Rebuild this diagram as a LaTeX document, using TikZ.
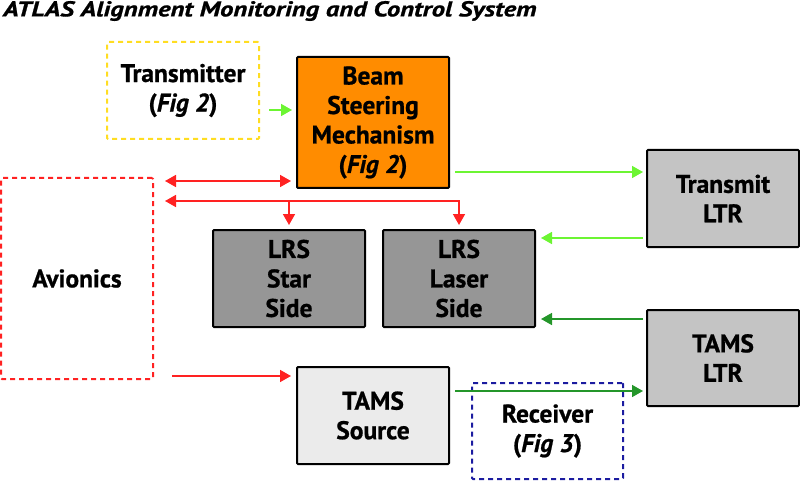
\documentclass[tikz,border=0pt]{standalone}
\usepackage{fontspec}
\setmainfont{PT Sans}
\usetikzlibrary{arrows.meta,calc}
\definecolor{borange}{HTML}{FF8C00}
\definecolor{dgray}{HTML}{969696}
\definecolor{mgray}{HTML}{C4C4C4}
\definecolor{lgray}{HTML}{EBEBEB}
\definecolor{lgreen}{HTML}{6CF532}
\definecolor{dgreen}{HTML}{24962A}
\definecolor{ared}{HTML}{FF2222}
\definecolor{dblue}{HTML}{1C1CA0}
\definecolor{dyellow}{HTML}{FFDD22}
\tikzset{
  box/.style={draw=black,line width=2pt,rounded corners=1pt,minimum width=152pt,align=center,
    font=\fontsize{25.5}{29.5}\selectfont\bfseries\addfontfeature{FakeBold=0.8},inner sep=0pt},
  dbox/.style={box,dash pattern=on 5pt off 4pt},
  arr/.style={line width=1.6pt,-{Triangle[length=11pt,width=12pt]}},
  darr/.style={line width=1.6pt,{Triangle[length=11pt,width=12pt]}-{Triangle[length=11pt,width=12pt]}}
}
\begin{document}
\begin{tikzpicture}[x=1pt,y=-1pt]
\useasboundingbox (0,0) rectangle (800,481);
\node[anchor=west,inner sep=0pt,font=\fontsize{21.5}{25}\selectfont\bfseries\itshape\addfontfeature{FakeBold=0.8}] (title) at (3,11) {\scalebox{1.24}[1]{ATLAS Alignment Monitoring and Control System}};
\node[dbox,draw=dyellow,minimum height=97pt] (tx) at (183,90.5) {Transmitter\\(\textit{Fig 2})};
\node[box,fill=borange,minimum height=131pt] (bsm) at (373,122.5) {Beam\\Steering\\Mechanism\\(\textit{Fig 2})};
\node[box,fill=mgray,minimum height=97pt] (tltr) at (723,198.5) {Transmit\\LTR};
\node[dbox,draw=ared,minimum height=201pt] (av) at (77,278.5) {Avionics};
\node[box,fill=dgray,minimum height=97pt] (star) at (289,278.5) {LRS\\Star\\Side};
\node[box,fill=dgray,minimum height=97pt] (laser) at (459,278.5) {LRS\\Laser\\Side};
\node[box,fill=mgray,minimum height=96pt] (tamsltr) at (723,358) {TAMS\\LTR};
\node[box,fill=lgray,minimum height=97pt] (src) at (373,415.5) {TAMS\\Source};
\node[dbox,draw=dblue,minimum width=151pt,minimum height=96pt] (rx) at (547.5,431) {Receiver\\(\textit{Fig 3})};
% green connectors
\draw[arr,lgreen] ([xshift=9pt,yshift=-19.5pt]tx.east) -- ([xshift=-4pt,yshift=12.5pt]bsm.west);
\draw[arr,lgreen] ([xshift=5pt,yshift=-49.5pt]bsm.east) -- ([xshift=-3pt,yshift=26.5pt]tltr.west);
\draw[arr,lgreen] ([xshift=-3pt,yshift=-39.5pt]tltr.west) -- ([xshift=5pt,yshift=40.5pt]laser.east);
\draw[arr,dgreen] ([xshift=-3pt,yshift=39pt]tamsltr.west) -- ([xshift=5pt,yshift=-40.5pt]laser.east);
\draw[arr,dgreen] ([xshift=5pt,yshift=24.5pt]src.east) -- ([xshift=-3pt,yshift=-33pt]tamsltr.west);
% red connectors
\draw[darr,ared] ([xshift=11pt,yshift=97.5pt]av.east) -- ([xshift=-5pt,yshift=-58.5pt]bsm.west);
\coordinate (rl) at ([xshift=11pt,yshift=77.5pt]av.east);
\draw[darr,ared] (rl) -| ([yshift=4pt]laser.north);
\draw[arr,ared] (star.north |- rl) -- ([yshift=4pt]star.north);
\draw[arr,ared] ([xshift=18pt,yshift=-97.5pt]av.east) -- ([xshift=-5pt,yshift=39.5pt]src.west);
\end{tikzpicture}
\end{document}
